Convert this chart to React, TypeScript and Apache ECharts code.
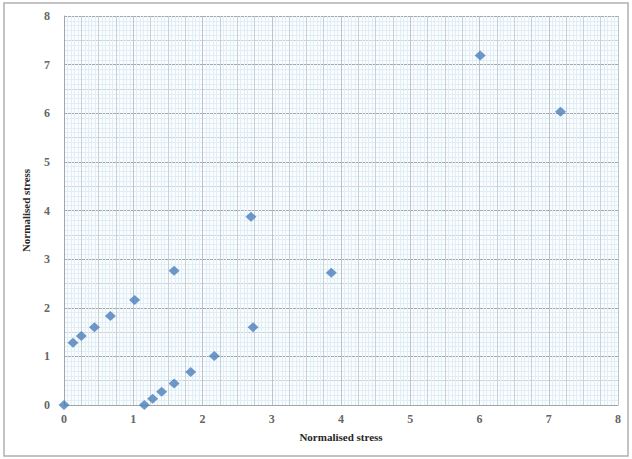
import React, { useEffect, useRef } from "react";
import * as echarts from "echarts";

const xValues = [0, 0.13, 0.25, 0.44, 0.67, 1.02, 1.59, 2.7, 2.73, 3.86, 6.01, 7.17, 1.16, 1.28, 1.41, 1.59, 1.83, 2.17];
const yValues = [0, 1.28, 1.42, 1.6, 1.83, 2.16, 2.76, 3.87, 1.6, 2.72, 7.19, 6.03, 0, 0.13, 0.27, 0.44, 0.68, 1.01];
const xTitle = "Normalised stress";
const yTitle = "Normalised stress";

export default function App() {
  const ref = useRef<HTMLDivElement>(null);
  useEffect(() => {
    document.body.style.margin = "0";
    const chart = echarts.init(ref.current!, null, { renderer: "svg" });
    const font = "'Liberation Serif', 'DejaVu Serif', serif";
    const hidden = (interval: number, color: string, position: string) => ({
      type: "value" as const,
      position,
      min: 0,
      max: 8,
      interval,
      axisLabel: { show: false },
      axisTick: { show: false },
      axisLine: { show: false },
      splitLine: { show: true, lineStyle: { color, width: 1 } },
    });
    const labelStyle = { fontFamily: font, fontWeight: "bold" as const, fontSize: 12, color: "#666666" };
    chart.setOption({
      animation: false,
      backgroundColor: "#ffffff",
      graphic: [
        {
          type: "rect",
          shape: { x: 4, y: 3, width: 624, height: 453 },
          style: { fill: "none", stroke: "#b0b0b0", lineWidth: 1.5 },
          silent: true,
        },
      ],
      grid: { left: 64, right: 14, top: 16, bottom: 54, show: true, backgroundColor: "#fafcfe", borderWidth: 0 },
      xAxis: [
        hidden(0.05, "#e0eef5", "bottom"),
        hidden(0.25, "#c8d1d6", "bottom"),
        {
          type: "value",
          position: "bottom",
          min: 0,
          max: 8,
          interval: 1,
          name: xTitle,
          nameLocation: "middle",
          nameGap: 26,
          nameTextStyle: { fontFamily: font, fontWeight: "bold", fontSize: 11, color: "#262626" },
          axisLabel: { ...labelStyle, margin: 8 },
          axisTick: { show: false },
          axisLine: { show: true, lineStyle: { color: "#a0a6ab", width: 1 } },
          splitLine: { show: true, lineStyle: { color: "#bcc4c9", width: 1 } },
        },
      ],
      yAxis: [
        hidden(0.1, "#e0eef5", "left"),
        hidden(0.5, "#cdd5da", "left"),
        {
          type: "value",
          position: "left",
          min: 0,
          max: 8,
          interval: 1,
          name: yTitle,
          nameLocation: "middle",
          nameGap: 33,
          nameTextStyle: { fontFamily: font, fontWeight: "bold", fontSize: 11, color: "#262626" },
          axisLabel: { ...labelStyle, margin: 14 },
          axisTick: { show: false },
          axisLine: { show: true, lineStyle: { color: "#a0a6ab", width: 1 } },
          splitLine: { show: true, lineStyle: { color: "#a0a8ae", width: 1.2 } },
        },
      ],
      series: [
        {
          type: "scatter",
          xAxisIndex: 2,
          yAxisIndex: 2,
          symbol: "diamond",
          symbolSize: [11, 10],
          itemStyle: { color: "#4a7ebb" },
          data: xValues.map((x, i) => [x, yValues[i]]),
        },
      ],
    });
    return () => chart.dispose();
  }, []);
  return <div ref={ref} style={{ width: 632, height: 459 }} />;
}
